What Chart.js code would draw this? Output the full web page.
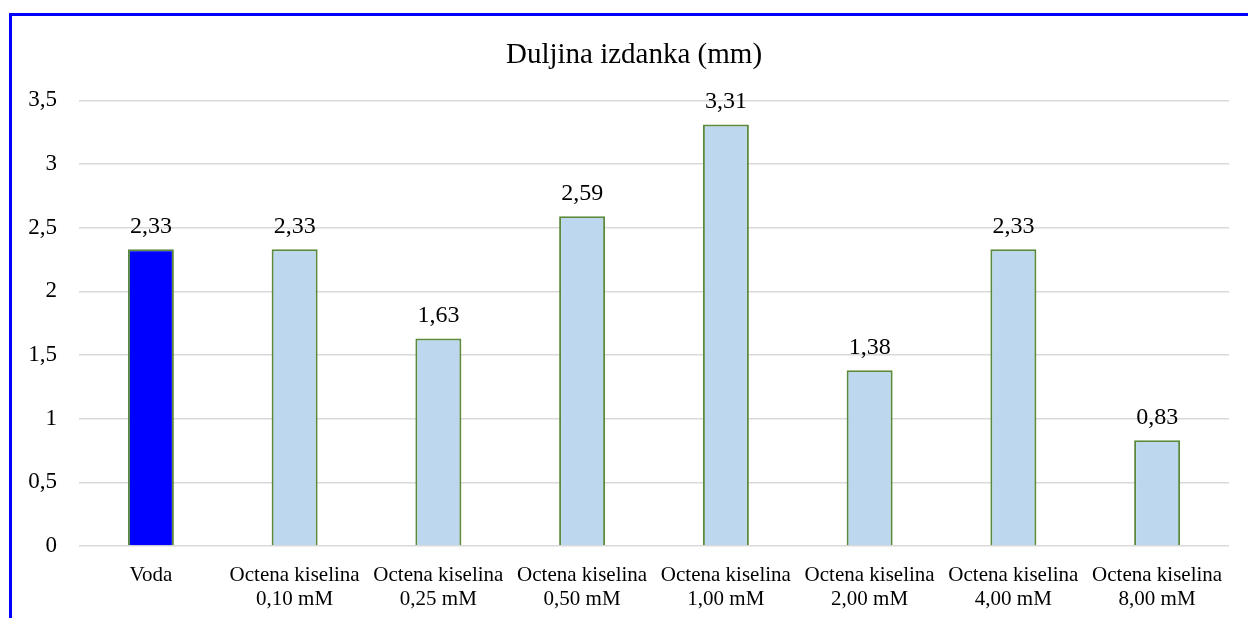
<!DOCTYPE html>
<html>
<head>
<meta charset="utf-8">
<script src="https://cdn.jsdelivr.net/npm/chart.js@4.4.1/dist/chart.umd.min.js"></script>
<style>
  html, body { margin: 0; padding: 0; background: #fff; }
  #frame { position: absolute; left: 9px; top: 13px; width: 1236px; height: 602px;
           border-left: 3px solid #0000ff; border-top: 3px solid #0000ff; }
  #c { display: block; }
</style>
</head>
<body>
<div id="frame"><canvas id="c" width="1236" height="602"></canvas></div>
<script>
const categories = [
  ["Voda"],
  ["Octena kiselina", "0,10 mM"],
  ["Octena kiselina", "0,25 mM"],
  ["Octena kiselina", "0,50 mM"],
  ["Octena kiselina", "1,00 mM"],
  ["Octena kiselina", "2,00 mM"],
  ["Octena kiselina", "4,00 mM"],
  ["Octena kiselina", "8,00 mM"]
];
const values = [2.33, 2.33, 1.63, 2.59, 3.31, 1.38, 2.33, 0.83];
const barColors = ["#0000ff", "#bdd7ee", "#bdd7ee", "#bdd7ee", "#bdd7ee", "#bdd7ee", "#bdd7ee", "#bdd7ee"];
const titleText = "Duljina izdanka (mm)";

const fmt = v => v.toString().replace('.', ',');
const FONT = "'Liberation Serif', 'Times New Roman', serif";

const labelPlugin = {
  id: 'valueLabels',
  afterDatasetsDraw(chart) {
    const ctx = chart.ctx;
    const meta = chart.getDatasetMeta(0);
    ctx.save();
    ctx.font = "24px " + FONT;
    ctx.fillStyle = "#000";
    ctx.textAlign = "center";
    ctx.textBaseline = "middle";
    meta.data.forEach((bar, i) => {
      ctx.fillText(fmt(values[i].toFixed(2)), bar.x, bar.y - 23);
    });
    ctx.restore();
  }
};

new Chart(document.getElementById('c'), {
  type: 'bar',
  data: {
    labels: categories,
    datasets: [{
      data: values,
      backgroundColor: barColors,
      borderColor: "#5b8a3c",
      borderWidth: 2,
      barPercentage: 1,
      categoryPercentage: 0.32
    }]
  },
  options: {
    responsive: false,
    animation: false,
    layout: { padding: { left: 8, right: 0, top: 10, bottom: 0 } },
    plugins: {
      legend: { display: false },
      tooltip: { enabled: false },
      title: {
        display: true,
        text: titleText,
        color: "#000",
        font: { family: FONT, size: 29, weight: 'normal' },
        padding: { top: 11.6, bottom: 28 }
      }
    },
    scales: {
      y: {
        min: 0, max: 3.5,
        ticks: {
          stepSize: 0.5,
          color: "#000",
          font: { family: FONT, size: 23 },
          padding: 22,
          callback: v => fmt(v)
        },
        grid: { color: "#d9d9d9", lineWidth: 1.5, drawTicks: false },
        border: { display: false },
        afterFit: s => { s.width = 59; }
      },
      yRight: {
        position: 'right',
        display: true,
        ticks: { display: false },
        grid: { display: false, drawTicks: false },
        border: { display: false },
        afterFit: s => { s.width = 19; }
      },
      x: {
        ticks: {
          color: "#000",
          font: { family: FONT, size: 21, lineHeight: 1.15 },
          padding: 17,
          maxRotation: 0, autoSkip: false
        },
        grid: { display: false, drawTicks: false },
        border: { display: false },
        afterFit: s => { s.height = 72; }
      }
    }
  },
  plugins: [labelPlugin]
});
</script>
</body>
</html>
